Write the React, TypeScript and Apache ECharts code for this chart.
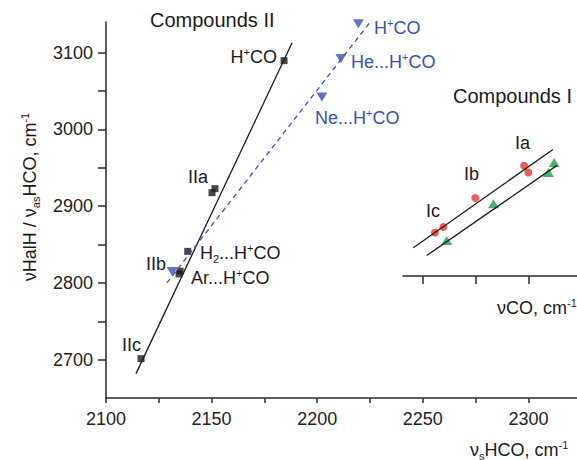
import React, { useEffect, useRef } from 'react';
import * as echarts from 'echarts';

// ---- axis ticks ----
const xTickValues = [2100, 2125, 2150, 2175, 2200, 2225, 2250, 2275, 2300];
const xLabelValues = [2100, 2150, 2200, 2250, 2300];
const yTickValues = [2700, 2750, 2800, 2850, 2900, 2950, 3000, 3050, 3100];
const yLabelValues = [2700, 2800, 2900, 3000, 3100];
const insetTickValues = [2250, 2275, 2300];

// ---- Compounds II (black squares) ----
const compII_x = [2184.3, 2150.2, 2151.6, 2138.7, 2135.1, 2134.6, 2116.6];
const compII_y = [3089.6, 2917.6, 2922.8, 2841.1, 2815.3, 2811.7, 2701.3];
const fitII_x = [2114.2, 2188.1];
const fitII_y = [2681.8, 3113];

// ---- cations (blue down triangles) ----
const ion_x = [2219.5, 2211.2, 2202.2, 2131.3];
const ion_y = [3137.8, 3092.5, 3042.3, 2814.7];
const fitIon_x = [2128.8, 2225.1];
const fitIon_y = [2799.9, 3140];

// ---- Compounds I inset ----
const red_x = [2255.8, 2259.8, 2274.9, 2298.0, 2300.0];
const red_y = [2866.1, 2873.2, 2911.0, 2953.0, 2944.1];
const green_x = [2261.4, 2283.5, 2309.5, 2312.2];
const green_y = [2855.7, 2903.5, 2944.1, 2957.1];
const fitRed_x = [2245.6, 2311.6];
const fitRed_y = [2846.1, 2974.1];
const fitGreen_x = [2251.9, 2313.5];
const fitGreen_y = [2836.0, 2953.4];

const FONT = '"Liberation Sans", Arial, Helvetica, sans-serif';
const BLACK = '#1a1a1a';
const BLUE = '#3b4fb8';
const RED = '#e8332e';
const GREEN = '#17a04a';
const AXIS = '#2a2a2a';

const zip = (xs: number[], ys: number[]) => xs.map((x, i) => [x, ys[i]]);

function rich(color: string, size: number) {
  const s = Math.round(size * 0.6);
  return {
    sup: { fill: color, fontSize: s, lineHeight: 12, verticalAlign: 'top', fontFamily: FONT },
    sub: { fill: color, fontSize: s, lineHeight: 12, verticalAlign: 'bottom', fontFamily: FONT },
  };
}

function label(x: number, y: number, text: string, color = BLACK, size = 18, align = 'left', rotation = 0) {
  return {
    type: 'text',
    x,
    y,
    rotation,
    silent: true,
    style: {
      text,
      fill: color,
      fontSize: size,
      fontFamily: FONT,
      lineHeight: 22,
      align,
      verticalAlign: 'middle',
      rich: rich(color, size),
    },
  };
}

export default function App() {
  const ref = useRef<HTMLDivElement>(null);
  useEffect(() => {
    if (!ref.current) return;
    const chart = echarts.init(ref.current, undefined, { renderer: 'svg' });
    const option: any = {
      animation: false,
      backgroundColor: '#ffffff',
      grid: [
        { left: 106, right: 0, top: 22, bottom: 62 },
        { left: 403, right: 0, top: 22, bottom: 184 },
      ],
      xAxis: [
        {
          type: 'value',
          gridIndex: 0,
          min: 2100,
          max: 2323,
          splitLine: { show: false },
          axisLine: { lineStyle: { color: AXIS, width: 1.5 } },
          axisTick: { customValues: xTickValues, length: 5, lineStyle: { color: AXIS, width: 1.5 } },
          axisLabel: {
            customValues: xLabelValues,
            formatter: (v: number) => String(v),
            color: '#222',
            fontSize: 18,
            fontFamily: FONT,
            margin: 12,
          },
        },
        {
          type: 'value',
          gridIndex: 1,
          min: 2240.7,
          max: 2323,
          splitLine: { show: false },
          axisLine: { lineStyle: { color: AXIS, width: 1.5 } },
          axisTick: { customValues: insetTickValues, length: 8, lineStyle: { color: AXIS, width: 1.5 } },
          axisLabel: { show: false },
        },
      ],
      yAxis: [
        {
          type: 'value',
          gridIndex: 0,
          min: 2650,
          max: 3140,
          splitLine: { show: false },
          axisLine: { show: true, lineStyle: { color: AXIS, width: 1.5 } },
          axisTick: { show: true, customValues: yTickValues, length: 8, lineStyle: { color: AXIS, width: 1.5 } },
          axisLabel: {
            customValues: yLabelValues,
            formatter: (v: number) => String(v),
            color: '#222',
            fontSize: 18,
            fontFamily: FONT,
            margin: 13,
          },
        },
        {
          type: 'value',
          gridIndex: 1,
          min: 2809.4,
          max: 3140,
          show: false,
          splitLine: { show: false },
        },
      ],
      series: [
        {
          type: 'line',
          data: zip(fitII_x, fitII_y),
          showSymbol: false,
          clip: false,
          lineStyle: { color: BLACK, width: 1.3 },
        },
        {
          type: 'line',
          data: zip(fitIon_x, fitIon_y),
          showSymbol: false,
          clip: false,
          lineStyle: { color: BLUE, width: 1.3, type: [5, 4] },
        },
        {
          type: 'scatter',
          data: zip(compII_x, compII_y),
          symbol: 'rect',
          symbolSize: 7,
          clip: false,
          itemStyle: { color: BLACK },
        },
        {
          type: 'scatter',
          data: zip(ion_x, ion_y),
          symbol: 'triangle',
          symbolRotate: 180,
          symbolSize: [11, 9],
          clip: false,
          itemStyle: { color: BLUE },
        },
        {
          type: 'line',
          xAxisIndex: 1,
          yAxisIndex: 1,
          data: zip(fitRed_x, fitRed_y),
          showSymbol: false,
          clip: false,
          lineStyle: { color: BLACK, width: 1.3 },
        },
        {
          type: 'line',
          xAxisIndex: 1,
          yAxisIndex: 1,
          data: zip(fitGreen_x, fitGreen_y),
          showSymbol: false,
          clip: false,
          lineStyle: { color: BLACK, width: 1.3 },
        },
        {
          type: 'scatter',
          xAxisIndex: 1,
          yAxisIndex: 1,
          data: zip(red_x, red_y),
          symbol: 'circle',
          symbolSize: 8,
          clip: false,
          itemStyle: { color: RED },
        },
        {
          type: 'scatter',
          xAxisIndex: 1,
          yAxisIndex: 1,
          data: zip(green_x, green_y),
          symbol: 'triangle',
          symbolSize: [11, 9],
          clip: false,
          itemStyle: { color: GREEN },
        },
      ],
      graphic: [
        label(150, 20, 'Compounds II', BLACK, 20),
        label(277, 57, 'H{sup|+}CO', BLACK, 18, 'right'),
        label(188, 177, 'IIa'),
        label(146, 264, 'IIb'),
        label(122, 345, 'IIc'),
        label(200, 253, 'H{sub|2}...H{sup|+}CO'),
        label(191, 278, 'Ar...H{sup|+}CO'),
        label(374, 28, 'H{sup|+}CO', BLUE),
        label(351, 62, 'He...H{sup|+}CO', BLUE),
        label(315, 118, 'Ne...H{sup|+}CO', BLUE),
        label(453, 96, 'Compounds I', BLACK, 20),
        label(515, 143, 'Ia'),
        label(464, 174, 'Ib'),
        label(426, 211, 'Ic'),
        label(497, 308, 'νCO, cm{sup|-1}'),
        label(470, 450, 'ν{sub|s}HCO, cm{sup|-1}'),
        label(30, 197, 'νHalH / ν{sub|as}HCO, cm{sup|-1}', BLACK, 18, 'center', Math.PI / 2),
      ],
    };
    chart.setOption(option);
    return () => chart.dispose();
  }, []);
  return (
    <div
      ref={ref}
      style={{ position: 'absolute', left: 0, top: 0, width: 577, height: 460, background: '#fff' }}
    />
  );
}
